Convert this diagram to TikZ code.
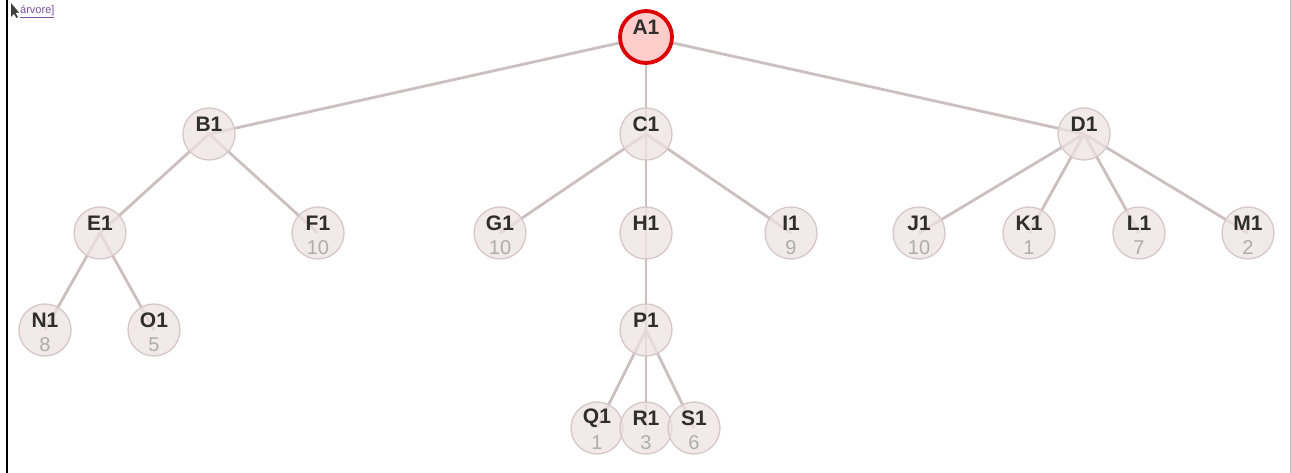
\documentclass[tikz,border=0pt]{standalone}
\usepackage{fontspec}
\setmainfont{Liberation Sans}
\begin{document}
\begin{tikzpicture}[x=1pt,y=-1pt,
  edge/.style={draw=edgec,line width=2.8pt},
  tnode/.style={circle,minimum size=52pt,inner sep=0pt,draw=nodestroke,line width=1.3pt,fill=nodefill,fill opacity=0.75,text opacity=1},
  rootnode/.style={circle,minimum size=52pt,inner sep=0pt,draw=rootred,line width=3.8pt,fill=rootfill},
  nm/.style={font=\bfseries\fontsize{21}{21}\selectfont,text=namec,anchor=center},
  num/.style={font=\fontsize{20}{20}\selectfont,text=numc,anchor=center}]
\definecolor{edgec}{HTML}{CBBFC2}
\definecolor{nodestroke}{HTML}{D6C8C8}
\definecolor{nodefill}{HTML}{EEE2E2}
\definecolor{rootred}{HTML}{DD0000}
\definecolor{rootfill}{HTML}{FFCCCC}
\definecolor{namec}{HTML}{2E2E2A}
\definecolor{numc}{HTML}{ADADAD}
\definecolor{linkc}{HTML}{7A4FA8}
\useasboundingbox (0,0) rectangle (1291,473);
\fill[white] (0,0) rectangle (1291,473);
\draw[black,line width=2pt] (7,0) -- (7,473);
\draw[gray!50,line width=1pt] (1290,0) -- (1290,473);
% cursor icon
\fill[black!75] (11,3) -- (11,17) -- (14,14) -- (16.5,18) -- (18,17) -- (15.5,13) -- (19,12.5) -- cycle;
\node[anchor=west,inner sep=0pt,font=\fontsize{11}{11}\selectfont,text=linkc] (link) at (20,11.5) {\underline{árvore]}};
% coordinates
\coordinate (A1) at (646,37);
\coordinate (B1) at (209,134);
\coordinate (C1) at (646,134);
\coordinate (D1) at (1084,134);
\coordinate (E1) at (100,233);
\coordinate (F1) at (318,233);
\coordinate (G1) at (500,233);
\coordinate (H1) at (646,233);
\coordinate (I1) at (791,233);
\coordinate (J1) at (919,233);
\coordinate (K1) at (1029,233);
\coordinate (L1) at (1139,233);
\coordinate (M1) at (1248,233);
\coordinate (N1) at (45,330);
\coordinate (O1) at (154,330);
\coordinate (P1) at (646,330);
\coordinate (Q1) at (597,428);
\coordinate (R1) at (646,428);
\coordinate (S1) at (694,428);
% edges
\foreach \a/\b in {A1/B1,A1/C1,A1/D1,B1/E1,B1/F1,C1/G1,C1/H1,C1/I1,D1/J1,D1/K1,D1/L1,D1/M1,E1/N1,E1/O1,H1/P1,P1/Q1,P1/R1,P1/S1}
  \draw[edge] (\a) -- (\b);
% nodes
\foreach \n in {B1,C1,D1,E1,F1,G1,H1,I1,J1,K1,L1,M1,N1,O1,P1,Q1,R1,S1}
  \node[tnode] (n\n) at (\n) {};
\node[rootnode] (nA1) at (A1) {};
% labels
\foreach \n in {A1,B1,C1,D1,E1,F1,G1,H1,I1,J1,K1,L1,M1,N1,O1,P1,Q1,R1,S1}
  \node[nm] (t\n) at ([yshift=10pt]\n) {\n};
\foreach \n/\v in {F1/10,G1/10,I1/9,J1/10,K1/1,L1/7,M1/2,N1/8,O1/5,Q1/1,R1/3,S1/6}
  \node[num] (v\n) at ([yshift=-15pt]\n) {\v};
\end{tikzpicture}
\end{document}
